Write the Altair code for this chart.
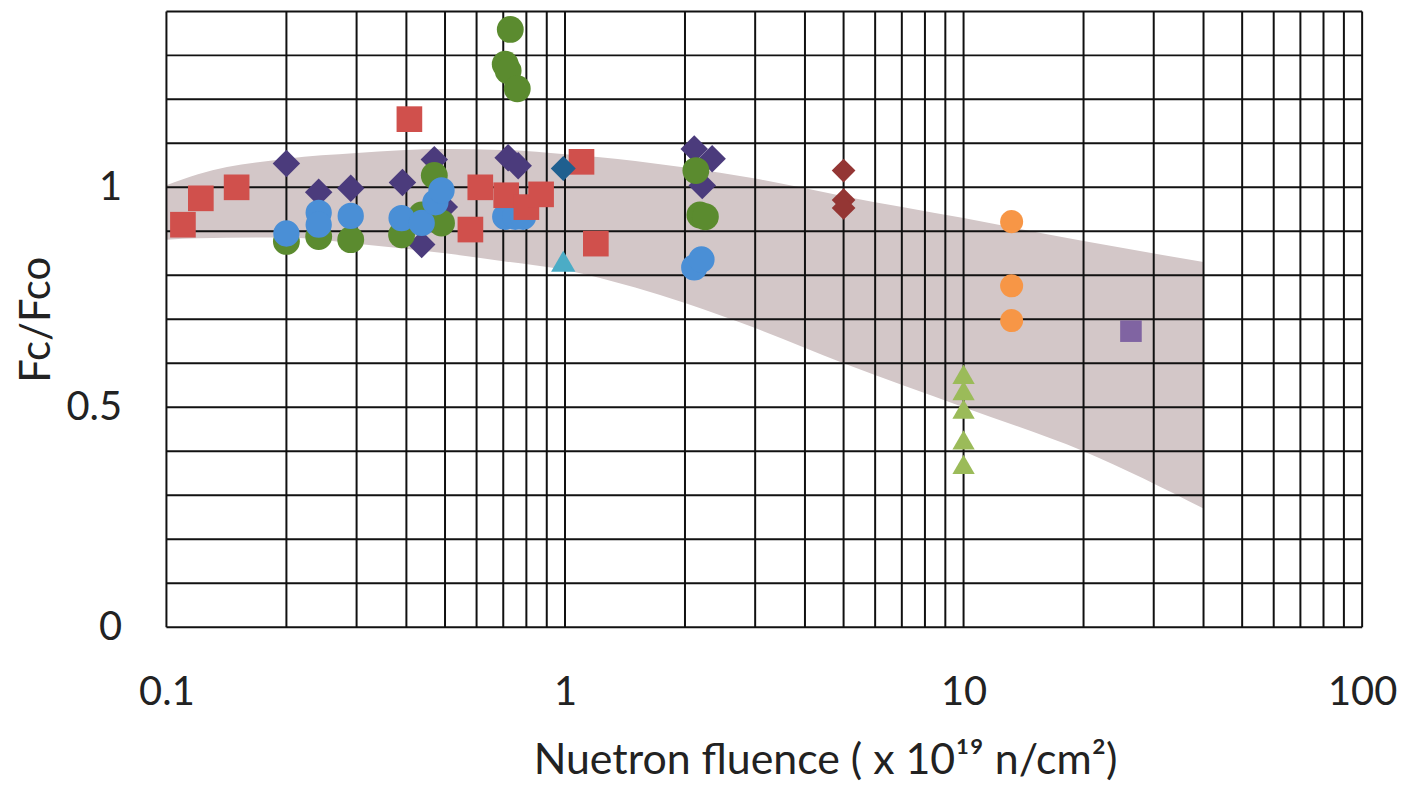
import altair as alt
import pandas as pd

# ---------------- data ----------------
series_names = ["s_purple_diamond", "s_green_circle", "s_blue_circle", "s_red_square",
                "s_teal_diamond", "s_cyan_triangle", "s_darkred_diamond",
                "s_orange_circle", "s_lgreen_triangle", "s_violet_square"]

purple_x = [0.2, 0.241, 0.29, 0.391, 0.47, 0.498, 0.437, 0.72, 0.763, 2.11, 2.34, 2.21]
purple_y = [1.054, 0.989, 0.998, 1.011, 1.063, 0.955, 0.87, 1.067, 1.049, 1.087, 1.065, 1.004]

green_x = [0.729, 0.708, 0.72, 0.759, 0.47, 0.437, 0.49, 0.389, 0.29, 0.241, 0.2, 2.13, 2.18, 2.25]
green_y = [1.359, 1.28, 1.265, 1.224, 1.027, 0.937, 0.919, 0.892, 0.881, 0.888, 0.877, 1.038, 0.937, 0.933]

blue_x = [0.2, 0.241, 0.241, 0.29, 0.389, 0.437, 0.473, 0.49, 0.708, 0.75, 0.785, 2.11, 2.2]
blue_y = [0.895, 0.942, 0.915, 0.935, 0.930, 0.919, 0.966, 0.993, 0.933, 0.933, 0.933, 0.818, 0.836]

red_x = [0.110, 0.122, 0.150, 0.407, 0.613, 0.579, 0.712, 0.80, 0.871, 1.10, 1.195]
red_y = [0.915, 0.975, 1.0, 1.155, 1.0, 0.904, 0.982, 0.955, 0.984, 1.058, 0.872]

teal_x = [0.99]
teal_y = [1.043]

cyan_x = [0.99]
cyan_y = [0.832]

darkred_x = [5.0, 5.0, 5.0]
darkred_y = [1.038, 0.971, 0.953]

orange_x = [13.2, 13.2, 13.2]
orange_y = [0.922, 0.776, 0.697]

lgreen_x = [10.0, 10.0, 10.0, 10.0, 10.0]
lgreen_y = [0.575, 0.538, 0.496, 0.426, 0.37]

violet_x = [26.3]
violet_y = [0.673]

# shaded band (upper / lower envelope)
band_x = [0.1, 0.12, 0.2, 0.3, 0.5, 0.7, 1.0, 1.5, 2.0, 3.0, 5.0, 10.0, 20.0, 40.0]
band_top = [1.005, 1.03, 1.065, 1.078, 1.087, 1.085, 1.075, 1.06, 1.045, 1.02, 0.98, 0.93, 0.878, 0.83]
band_bot = [0.881, 0.884, 0.886, 0.872, 0.85, 0.832, 0.812, 0.772, 0.737, 0.68, 0.60, 0.50, 0.40, 0.27]

# grid values
grid_x = [0.1, 0.2, 0.3, 0.4, 0.5, 0.6, 0.7, 0.8, 0.9,
          1, 2, 3, 4, 5, 6, 7, 8, 9,
          10, 20, 30, 40, 50, 60, 70, 80, 90, 100]
grid_y = [0.0, 0.1, 0.2, 0.3, 0.4, 0.5, 0.6, 0.7, 0.8, 0.9, 1.0, 1.1, 1.2, 1.3, 1.4]

x_labels = [0.1, 1, 10, 100]
y_labels = [0, 0.5, 1]

series_colors = ["#4b3b7c", "#5b8b2f", "#4a8fd6", "#d0504c", "#1f5f8f",
                 "#4bacc6", "#943634", "#f79646", "#9bbb59", "#8064a2"]
series_shapes = ["diamond", "circle", "circle", "square", "diamond",
                 "triangle-up", "diamond", "circle", "triangle-up", "square"]
series_sizes = [760, 470, 470, 430, 760, 640, 760, 470, 640, 430]

# ---------------- tables ----------------
xs = [purple_x, green_x, blue_x, red_x, teal_x, cyan_x, darkred_x, orange_x, lgreen_x, violet_x]
ys = [purple_y, green_y, blue_y, red_y, teal_y, cyan_y, darkred_y, orange_y, lgreen_y, violet_y]
rows = []
for name, sx, sy in zip(series_names, xs, ys):
    for a, b in zip(sx, sy):
        rows.append({"series": name, "x": a, "y": b})
pts = pd.DataFrame(rows)
band = pd.DataFrame({"x": band_x, "top": band_top, "bot": band_bot})
gx = pd.DataFrame({"x": grid_x})
gy = pd.DataFrame({"y": grid_y})

FONT = "Lato"
xscale = alt.Scale(type="log", domain=[0.1, 100], nice=False)
yscale = alt.Scale(domain=[0, 1.4], nice=False, zero=False)

x_axis = alt.Axis(values=x_labels, format="~g", grid=False, ticks=False, domain=False,
                  labelFont=FONT, labelFontSize=40, labelColor="#222222", labelPadding=46,
                  labelFlush=False,
                  title="Nuetron fluence ( x 10¹⁹ n/cm²)", titleFont=FONT, titleFontSize=43,
                  titleFontWeight="normal", titleColor="#222222", titlePadding=27, titleX=661)
y_axis = alt.Axis(values=y_labels, format="~g", grid=False, ticks=False, domain=False,
                  labelFont=FONT, labelFontSize=40, labelColor="#222222", labelPadding=45,
                  labelFlush=False,
                  title="Fc/Fco", titleFont=FONT, titleFontSize=42, titleFontWeight="normal",
                  titleColor="#222222", titlePadding=8)

band_layer = alt.Chart(band).mark_area(color="#d3c7c8", interpolate="monotone", opacity=1).encode(
    x=alt.X("x:Q", scale=xscale, axis=x_axis),
    y=alt.Y("top:Q", scale=yscale, axis=y_axis),
    y2="bot:Q",
)

vrules = alt.Chart(gx).mark_rule(color="#111111", strokeWidth=2).encode(
    x=alt.X("x:Q", scale=xscale, axis=x_axis)
)
hrules = alt.Chart(gy).mark_rule(color="#111111", strokeWidth=2).encode(
    y=alt.Y("y:Q", scale=yscale, axis=y_axis)
)

points = alt.Chart(pts).mark_point(filled=True, opacity=1).encode(
    x=alt.X("x:Q", scale=xscale, axis=x_axis),
    y=alt.Y("y:Q", scale=yscale, axis=y_axis),
    color=alt.Color("series:N", scale=alt.Scale(domain=series_names, range=series_colors), legend=None),
    shape=alt.Shape("series:N", scale=alt.Scale(domain=series_names, range=series_shapes), legend=None),
    size=alt.Size("series:N", scale=alt.Scale(domain=series_names, range=series_sizes), legend=None),
)

chart = alt.layer(band_layer, vrules, hrules, points).properties(
    width=1200, height=618,
    autosize=alt.AutoSizeParams(type="none"),
    padding={"left": 159, "top": 2, "right": 38, "bottom": 160},
    background="white",
).configure_view(stroke=None)

chart.save("out.html", embed_options={"renderer": "svg", "actions": False})
